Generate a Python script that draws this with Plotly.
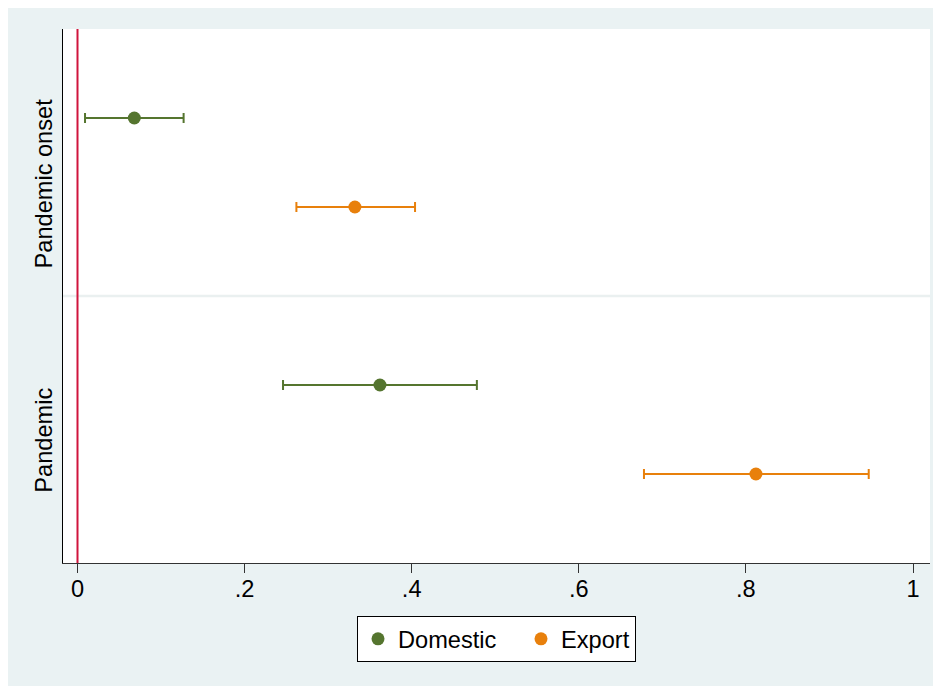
import plotly.graph_objects as go

# ---- data ----
groups = ["Pandemic onset", "Pandemic"]
series = ["Domestic", "Export"]
domestic_est = [0.068, 0.362]
domestic_lo = [0.009, 0.246]
domestic_hi = [0.127, 0.478]
export_est = [0.332, 0.812]
export_lo = [0.262, 0.678]
export_hi = [0.404, 0.947]
x_tickvals = [0, 0.2, 0.4, 0.6, 0.8, 1]
x_ticktext = ["0", ".2", ".4", ".6", ".8", "1"]

colors = {"Domestic": "#55752F", "Export": "#E8800C"}
FONT = "Liberation Sans, Arial, sans-serif"
FS = 23.6
NB = "\u00a0"

# y positions: each group occupies 3 slots, series at slot 1 and 2
def ypos(gi, si):
    return 1 + 3 * gi + si

fig = go.Figure()
for si, (name, est, lo, hi) in enumerate([
        ("Domestic", domestic_est, domestic_lo, domestic_hi),
        ("Export", export_est, export_lo, export_hi)]):
    ys = [ypos(gi, si) for gi in range(len(groups))]
    fig.add_trace(go.Scatter(
        x=est, y=ys, mode="markers",
        name=name + (NB * 3 if si == 0 else ""),
        marker=dict(color=colors[name], size=13),
        error_x=dict(type="data", symmetric=False,
                     array=[h - e for h, e in zip(hi, est)],
                     arrayminus=[e - l for e, l in zip(est, lo)],
                     color=colors[name], thickness=2, width=5),
    ))

# page body has an 8px margin; figure coordinates below are screen - 8
OFF = 8
W, H = 941, 686
L, R, T, B = 63 - OFF, 930 - OFF, 29 - OFF, 563 - OFF

def px_y(p):
    return (B - (p - OFF)) / (B - T)

shapes = [
    # group separator
    dict(type="line", xref="paper", yref="y", x0=0, x1=1, y0=3, y1=3,
         line=dict(color="#EAF0F0", width=2.5), layer="below"),
    # zero line
    dict(type="line", xref="x", yref="paper", x0=0, x1=0, y0=0, y1=1,
         line=dict(color="#D0143C", width=2)),
]

fig.update_layout(
    width=W, height=H,
    margin=dict(l=L, r=W - R, t=T, b=H - B),
    paper_bgcolor="#EAF2F3", plot_bgcolor="white",
    font=dict(family=FONT, size=FS, color="black"),
    showlegend=True,
    legend=dict(orientation="h", x=0.5, xanchor="center", y=px_y(616), yanchor="top",
                bgcolor="white", bordercolor="black", borderwidth=1,
                font=dict(size=FS, family=FONT)),
    shapes=shapes,
    xaxis=dict(range=[(63 - 77.5) / 835.5, (930 - 77.5) / 835.5],
               tickvals=x_tickvals, ticktext=x_ticktext,
               ticks="outside", ticklen=9, tickwidth=1.3, tickcolor="#333",
               showline=True, linecolor="#333", linewidth=1.3,
               showgrid=False, zeroline=False, ticklabelstandoff=-4,
               tickfont=dict(size=FS, family=FONT)),
    yaxis=dict(range=[6, 0], tickvals=[1.78, 4.66], ticktext=groups,
               tickangle=-90, ticks="", showline=True, linecolor="black",
               linewidth=1.3, showgrid=False, zeroline=False,
               tickfont=dict(size=FS, family=FONT)),
)

fig.write_html("out.html")
